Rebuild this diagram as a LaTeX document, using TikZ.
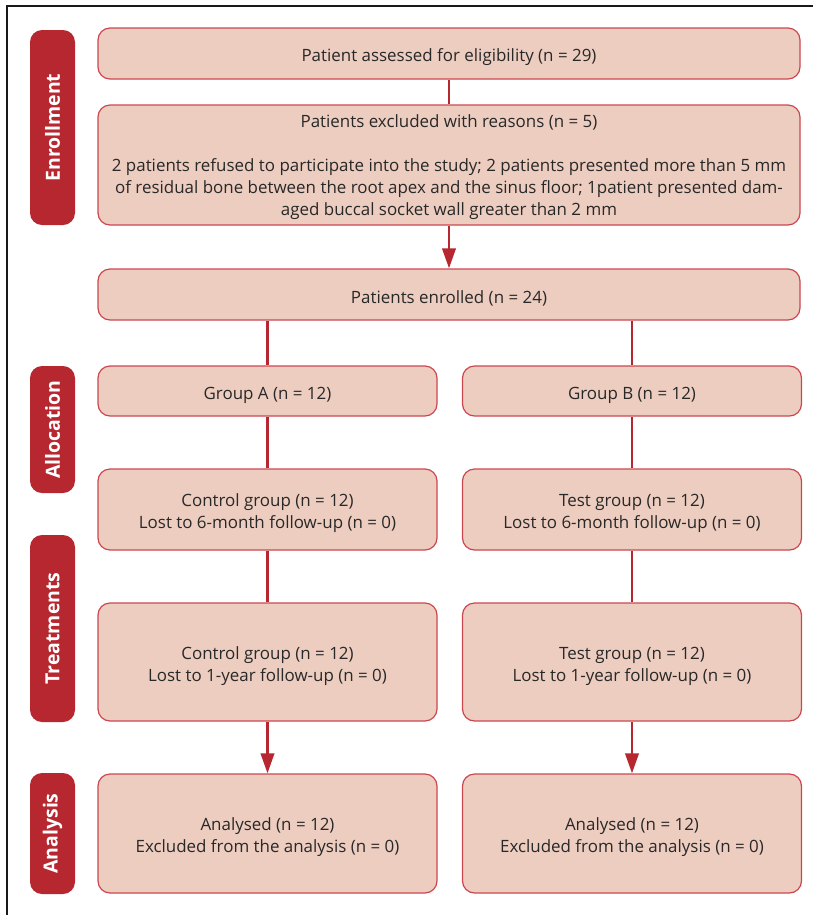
\documentclass[tikz,border=0pt]{standalone}
\usepackage{fontspec}
\setmainfont{Open Sans}
\usetikzlibrary{
  arrows.meta,
  positioning,
  calc
}
\definecolor{cstFill}{RGB}{237,205,192}
\definecolor{cstEdge}{RGB}{204,70,80}
\definecolor{cstRed}{RGB}{182,39,48}
\definecolor{cstText}{RGB}{40,40,40}
\newcommand{\cstdrop}[1][15.5pt]{\rule{0pt}{#1}}
\tikzset{
  cstbox/.style={
    draw=cstEdge,
    line width=0.9pt,
    fill=cstFill,
    rounded corners=9pt,
    align=center,
    text=cstText,
    inner sep=0pt,
    font=\fontsize{12.7}{16.5}\selectfont
  },
  widebox/.style={
    cstbox,
    minimum width=526.5pt
  },
  halfbox/.style={
    cstbox,
    minimum width=254.25pt
  },
  stagelabel/.style={
    fill=cstRed,
    rounded corners=9pt,
    rotate=90,
    minimum height=33.75pt,
    inner sep=0pt,
    text=white,
    font=\fontsize{14.6}{16}\selectfont\bfseries
  },
  cstline/.style={
    draw=cstRed,
    line width=2pt
  },
  cstarrow/.style={
    cstline,
    -{Triangle[length=15pt,width=10pt]}
  }
}

\begin{document}
\begin{tikzpicture}[x=0.75pt,y=-0.75pt]
  \useasboundingbox (0,0) rectangle (813,915);
  \draw[line width=1.5pt, black!90] (813,6) -- (7,6) -- (7,915);

  % stage labels
  \node[stagelabel, minimum width=146.25pt] (enrolment) at (52.5,127.5) {Enrollment};
  \node[stagelabel, minimum width=95.25pt] (allocation) at (52.5,429.5) {Allocation};
  \node[stagelabel, minimum width=140.25pt] (treatments) at (52.5,628.5) {Treatments};
  \node[stagelabel, minimum width=90.75pt] (analysis) at (52.5,833.5) {Analysis};

  % enrolment
  \node[widebox, minimum height=38.25pt] (assessed) at (449,53.5)
    {\cstdrop Patient assessed for eligibility (n = 29)};
  \node[widebox, minimum height=90pt] (excluded) at (449,165)
    {\cstdrop[13pt]Patients excluded with reasons (n = 5)\\[16pt]
     2 patients refused to participate into the study; 2 patients presented more than 5 mm\\
     of residual bone between the root apex and the sinus floor; 1patient presented dam-\\
     aged buccal socket wall greater than 2 mm};
  \node[widebox, minimum height=38.25pt] (enrolled) at (449,294.5)
    {\cstdrop Patients enrolled (n = 24)};

  % two arms
  \node[halfbox, minimum height=37.5pt] (groupA) at (267.5,391) {\cstdrop Group A (n = 12)};
  \node[halfbox, minimum height=37.5pt] (groupB) at (632,391) {\cstdrop Group B (n = 12)};

  \node[halfbox, minimum height=60.75pt] (controlA) at (267.5,509.5)
    {\cstdrop Control group (n = 12)\\Lost to 6-month follow-up (n = 0)};
  \node[halfbox, minimum height=60.75pt] (testA) at (632,509.5)
    {\cstdrop Test group (n = 12)\\Lost to 6-month follow-up (n = 0)};

  \node[halfbox, minimum height=88.5pt] (controlB) at (267.5,662)
    {\cstdrop Control group (n = 12)\\Lost to 1-year follow-up (n = 0)};
  \node[halfbox, minimum height=88.5pt] (testB) at (632,662)
    {\cstdrop Test group (n = 12)\\Lost to 1-year follow-up (n = 0)};

  \node[halfbox, minimum height=89.25pt] (analysedA) at (267.5,833.5)
    {\cstdrop Analysed (n = 12)\\Excluded from the analysis (n = 0)};
  \node[halfbox, minimum height=89.25pt] (analysedB) at (632,833.5)
    {\cstdrop Analysed (n = 12)\\Excluded from the analysis (n = 0)};

  % connectors
  \draw[cstline] (assessed.south) -- (excluded.north);
  \draw[cstarrow] (excluded.south) -- (enrolled.north);
  \draw[cstline] (enrolled.south -| groupA.north) -- (groupA.north);
  \draw[cstline] (enrolled.south -| groupB.north) -- (groupB.north);
  \draw[cstline] (groupA.south) -- (controlA.north);
  \draw[cstline] (groupB.south) -- (testA.north);
  \draw[cstline] (controlA.south) -- (controlB.north);
  \draw[cstline] (testA.south) -- (testB.north);
  \draw[cstarrow] (controlB.south) -- (analysedA.north);
  \draw[cstarrow] (testB.south) -- (analysedB.north);
\end{tikzpicture}
\end{document}
